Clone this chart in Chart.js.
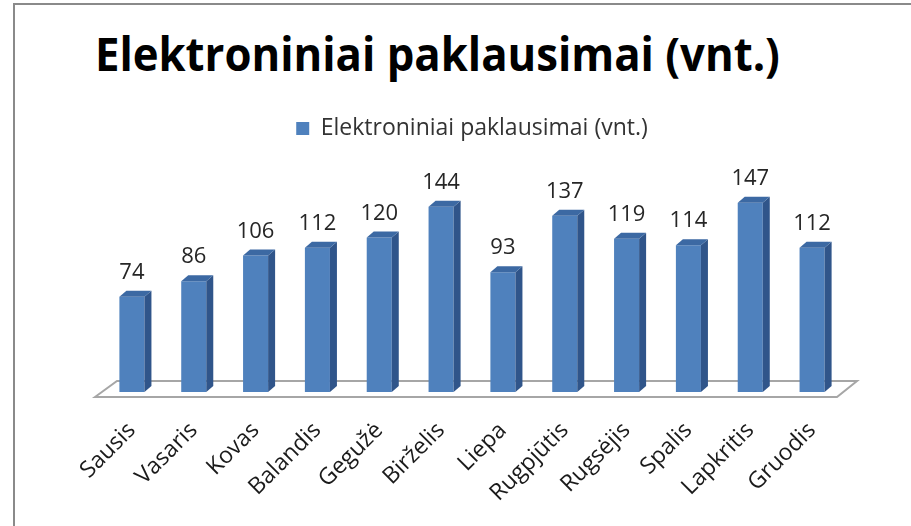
<!DOCTYPE html>
<html><head><meta charset="utf-8">
<script src="https://cdn.jsdelivr.net/npm/chart.js@4.4.1/dist/chart.umd.min.js"></script>
<style>
html,body{margin:0;padding:0;background:#fff;overflow:hidden;width:911px;height:526px;}
#frame{position:absolute;left:13px;top:3px;width:1000px;height:600px;border-left:2px solid #8a8a8a;border-top:2px solid #8a8a8a;}
#title{position:absolute;left:0;top:30px;width:874px;text-align:center;font-family:'Open Sans',sans-serif;font-weight:bold;font-size:47px;line-height:1;color:#000;white-space:nowrap;}
#title span{display:inline-block;transform-origin:center;}
#wrap{position:absolute;left:0;top:0;width:911px;height:526px;}
</style></head>
<body>
<div id="frame"></div>
<div id="title"><span id="tt"></span></div>
<div id="wrap"><canvas id="c" width="911" height="526"></canvas></div>
<script>
const chartTitle = 'Elektroniniai paklausimai (vnt.)';
const seriesName = 'Elektroniniai paklausimai (vnt.)';
const categories = ['Sausis','Vasaris','Kovas','Balandis','Gegužė','Birželis','Liepa','Rugpjūtis','Rugsėjis','Spalis','Lapkritis','Gruodis'];
const values = [74,86,106,112,120,144,93,137,119,114,147,112];

const tt = document.getElementById('tt');
tt.textContent = chartTitle;
const tw = tt.getBoundingClientRect().width;
tt.style.transform = 'scaleX(' + (685 / tw) + ')';

const DX = 7, DY = 6;
const threeD = {
  id: 'threeD',
  beforeDatasetsDraw(chart) {
    const ctx = chart.ctx, a = chart.chartArea;
    const base = chart.scales.y.getPixelForValue(0);
    ctx.save();
    ctx.beginPath();
    ctx.moveTo(a.left - 6, base + 5);
    ctx.lineTo(a.left + 16, base - 11);
    ctx.lineTo(a.right + 14, base - 11);
    ctx.lineTo(a.right - 6, base + 5);
    ctx.closePath();
    ctx.fillStyle = '#ffffff';
    ctx.fill();
    ctx.lineWidth = 2;
    ctx.strokeStyle = '#a6a6a6';
    ctx.stroke();
    ctx.restore();
  },
  afterDatasetsDraw(chart) {
    const ctx = chart.ctx;
    const meta = chart.getDatasetMeta(0);
    ctx.save();
    meta.data.forEach((bar, i) => {
      const w = bar.width, l = bar.x - w / 2, r = bar.x + w / 2, t = bar.y, b = bar.base;
      ctx.beginPath();
      ctx.moveTo(r, t); ctx.lineTo(r + DX, t - DY); ctx.lineTo(r + DX, b - DY); ctx.lineTo(r, b); ctx.closePath();
      ctx.fillStyle = '#30558a'; ctx.fill();
      ctx.beginPath();
      ctx.moveTo(l, t); ctx.lineTo(l + DX, t - DY); ctx.lineTo(r + DX, t - DY); ctx.lineTo(r, t); ctx.closePath();
      ctx.fillStyle = '#3c69a3'; ctx.fill();
      ctx.fillStyle = '#262626';
      ctx.font = '22px "Open Sans"';
      ctx.textAlign = 'center';
      ctx.textBaseline = 'alphabetic';
      ctx.fillText(String(values[i]), bar.x, t - 18);
    });
    ctx.restore();
  }
};

new Chart(document.getElementById('c'), {
  type: 'bar',
  data: {
    labels: categories,
    datasets: [{
      label: seriesName,
      data: values,
      backgroundColor: '#4f81bd',
      borderWidth: 0,
      barPercentage: 0.405,
      categoryPercentage: 1.0,
      clip: false
    }]
  },
  options: {
    responsive: false,
    animation: false,
    devicePixelRatio: 1,
    layout: { padding: { left: 101, right: 68, top: 107, bottom: 2 } },
    plugins: {
      legend: {
        position: 'top',
        labels: { boxWidth: 13, boxHeight: 13, color: '#333', padding: 10, font: { family: 'Open Sans', size: 23 } }
      },
      tooltip: { enabled: false },
      title: { display: false }
    },
    scales: {
      x: {
        grid: { display: false },
        border: { display: false },
        ticks: { minRotation: 45, maxRotation: 45, color: '#1a1a1a', padding: 17, font: { family: 'Open Sans', size: 23 } }
      },
      y: { display: false, min: 0, max: 188 }
    }
  },
  plugins: [threeD]
});
</script>
</body></html>
